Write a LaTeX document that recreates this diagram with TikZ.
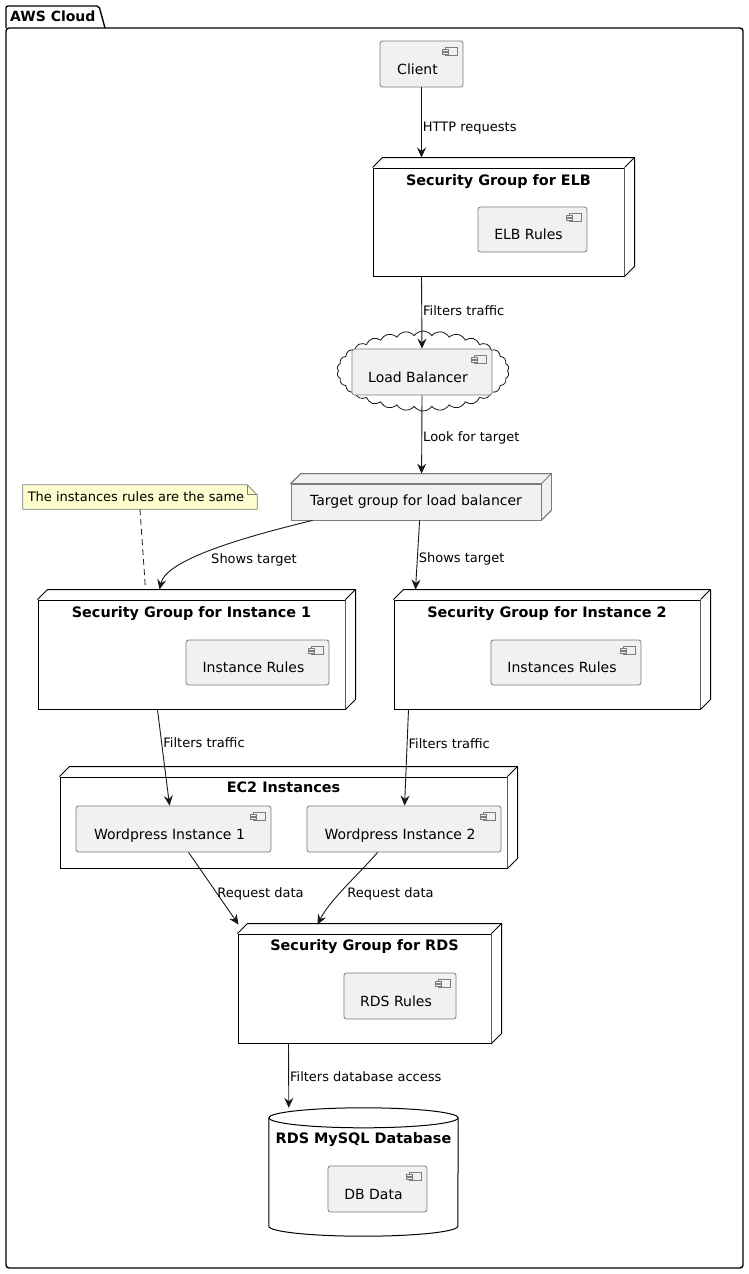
\documentclass[tikz,border=0pt]{standalone}
\usepackage{fontspec}
\setmainfont{DejaVu Sans}
\usetikzlibrary{shapes.symbols,arrows.meta,backgrounds}
\definecolor{compfill}{HTML}{F1F1F1}
\definecolor{compline}{HTML}{7C7C7C}
\definecolor{darkline}{HTML}{181818}
\definecolor{notefill}{HTML}{FEFECE}

\newcommand{\compicon}[1]{%
  \draw[compline, line width=0.6pt] ([xshift=-18pt,yshift=-7pt]#1.north east) rectangle ([xshift=-6pt,yshift=-15pt]#1.north east);
  \draw[compline, line width=0.6pt, fill=compfill] ([xshift=-21pt,yshift=-9pt]#1.north east) rectangle ([xshift=-15pt,yshift=-11pt]#1.north east);
  \draw[compline, line width=0.6pt, fill=compfill] ([xshift=-21pt,yshift=-12pt]#1.north east) rectangle ([xshift=-15pt,yshift=-14pt]#1.north east);}
\newcommand{\nodeback}[2][]{%
  \fill[fill=white, #1] (#2.north west) -- ([shift={(10pt,10pt)}]#2.north west) -- ([shift={(10pt,10pt)}]#2.north east) -- ([shift={(10pt,10pt)}]#2.south east) -- (#2.south east) -- (#2.north east) -- cycle;
  \draw[line width=1pt, line join=round, #1, fill=none] (#2.north west) -- ([shift={(10pt,10pt)}]#2.north west) -- ([shift={(10pt,10pt)}]#2.north east) -- ([shift={(10pt,10pt)}]#2.south east) -- (#2.south east);
  \draw[line width=1pt, #1, fill=none] (#2.north east) -- ([shift={(10pt,10pt)}]#2.north east);}

\begin{document}
\begin{tikzpicture}[x=1pt, y=-1pt,
   comp/.style={draw=compline, fill=compfill, rounded corners=2.5pt, line width=0.8pt, inner sep=0pt,
                font=\fontsize{14}{16}\selectfont, text height=20pt, text depth=0pt,
                execute at end node={\hspace*{8pt}}},
   group/.style={draw=black, fill=white, line width=1pt, inner sep=0pt},
   gtitle/.style={font=\bfseries\fontsize{14.4}{16}\selectfont, inner sep=0pt},
   elabel/.style={font=\fontsize{13}{15}\selectfont, inner sep=1pt, yshift=-2pt},
   link/.style={draw=darkline, line width=0.9pt, -{Stealth[length=10pt,width=9pt,inset=3.5pt]}},
   pkgline/.style={draw=black, line width=1.4pt}]

\useasboundingbox (0,0) rectangle (748,1274);

\draw[pkgline, rounded corners=2pt] (6,28) -- (6,6) -- (99,6) -- (105,28);
\draw[pkgline, rounded corners=3pt] (6,28) rectangle (743,1268);
\node[gtitle, font=\bfseries\fontsize{14}{16}\selectfont, anchor=west] (awstitle) at (10,16) {AWS Cloud};

\node[comp, minimum width=83, minimum height=46] (client) at (421.5,64) {Client};
\compicon{client}

\node[group, minimum width=251, minimum height=108] (elb) at (498.5,222) {};
\nodeback{elb}
\node[gtitle] (elbtitle) at ([yshift=-14pt]elb.north) {Security Group for ELB};
\node[comp, minimum width=109, minimum height=45] (elbrules) at (532.5,229.5) {ELB Rules};
\compicon{elbrules}

\node[cloud, cloud puffs=30, cloud puff arc=110, cloud ignores aspect, draw=darkline, line width=0.8pt,
      minimum width=172, minimum height=80] (lbcloud) at (423,371) {};
\node[comp, minimum width=140, minimum height=46] (lb) at (422,372) {Load Balancer};
\compicon{lb}

\node[draw=compline, fill=compfill, line width=0.8pt, minimum width=250, minimum height=36,
      font=\fontsize{14}{16}\selectfont] (tg) at (416,502) {Target group for load balancer};
\nodeback[draw=compline, fill=compfill, line width=0.8pt]{tg}

\node[minimum width=234, minimum height=24, inner sep=0pt, font=\fontsize{13}{15}\selectfont,
      execute at end node={\hspace*{8pt}}] (note) at (140,497) {The instances rules are the same};
\begin{scope}[on background layer]
\draw[draw=compline, fill=notefill, line width=0.7pt] (note.north west) -- ([xshift=-10pt]note.north east) -- ([yshift=-10pt]note.north east) -- (note.south east) -- (note.south west) -- cycle;
\draw[draw=compline, line width=0.7pt] ([xshift=-10pt]note.north east) |- ([yshift=-10pt]note.north east);
\end{scope}

\node[group, minimum width=307, minimum height=109] (sgone) at (191.5,654.5) {};
\nodeback{sgone}
\node[gtitle] (sgonetitle) at ([yshift=-14.5pt]sgone.north) {Security Group for Instance 1};
\node[comp, minimum width=143, minimum height=45] (rulesone) at (257.5,662.5) {Instance Rules};
\compicon{rulesone}

\node[group, minimum width=306, minimum height=109] (sgtwo) at (547,654.5) {};
\nodeback{sgtwo}
\node[gtitle] (sgtwotitle) at ([yshift=-14.5pt]sgtwo.north) {Security Group for Instance 2};
\node[comp, minimum width=150, minimum height=45] (rulestwo) at (566,662.5) {Instances Rules};
\compicon{rulestwo}

\node[group, minimum width=447, minimum height=91] (ec2) at (283.5,822.5) {};
\nodeback{ec2}
\node[gtitle] (ec2title) at ([yshift=-11pt]ec2.north) {EC2 Instances};
\node[comp, minimum width=195, minimum height=46] (wpone) at (173.5,829) {Wordpress Instance 1};
\compicon{wpone}
\node[comp, minimum width=194, minimum height=46] (wptwo) at (404,829) {Wordpress Instance 2};
\compicon{wptwo}

\node[group, minimum width=253, minimum height=109] (rds) at (364.5,988.5) {};
\nodeback{rds}
\node[gtitle] (rdstitle) at ([yshift=-13.5pt]rds.north) {Security Group for RDS};
\node[comp, minimum width=112, minimum height=46] (rdsrules) at (400,996) {RDS Rules};
\compicon{rdsrules}

\node[minimum width=189, minimum height=128, inner sep=0pt] (db) at (363.5,1172) {};
\draw[line width=1pt, fill=white] ([yshift=-10pt]db.north west) -- ([yshift=10pt]db.south west)
   arc[start angle=180, end angle=360, x radius=94.5pt, y radius=10pt] -- ([yshift=-10pt]db.north east);
\draw[line width=1pt] ([yshift=-10pt]db.north) ellipse [x radius=94.5pt, y radius=10pt];
\node[gtitle] (dbtitle) at ([yshift=-32pt]db.north) {RDS MySQL Database};
\node[comp, minimum width=99, minimum height=46] (dbdata) at (377.5,1189) {DB Data};
\compicon{dbdata}

\draw[link] (client.south) -- node[elabel, anchor=west, pos=0.55] (lhttp) {HTTP requests} ([xshift=49pt,yshift=10pt]elb.north west);
\draw[link] ([xshift=49pt]elb.south west) -- node[elabel, anchor=west, pos=0.44] (lfilter) {Filters traffic} (lb.north);
\draw[link] (lb.south) -- node[elabel, anchor=west, pos=0.52] (llook) {Look for target} ([xshift=131pt,yshift=10pt]tg.north west);
\draw[link] ([xshift=22pt]tg.south west) .. controls (240,538) and (166,560) .. ([xshift=122pt,yshift=10pt]sgone.north west)
   node[elabel] (lshowone) at (254,558) {Shows target};
\draw[link] ([xshift=129pt]tg.south west) -- node[elabel, anchor=west, pos=0.535] (lshowtwo) {Shows target} ([xshift=22pt,yshift=10pt]sgtwo.north west);
\draw[draw=darkline, line width=0.8pt, dash pattern=on 6pt off 4pt] (note.south) -- ([xshift=108pt,yshift=10pt]sgone.north west);
\draw[link] ([xshift=120pt]sgone.south west) .. controls (160,730) and (165,770) .. ([xshift=94pt]wpone.north west)
   node[elabel, anchor=west] (lfilterone) at (162,741) {Filters traffic};
\draw[link] ([xshift=15pt]sgtwo.south west) -- node[elabel, anchor=west, pos=0.33] (lfiltertwo) {Filters traffic} ([xshift=98pt]wptwo.north west);
\draw[link] ([xshift=113pt]wpone.south west) -- node[elabel, anchor=west, pos=0.55] (lreqone) {Request data} ([xshift=1pt,yshift=9pt]rds.north west);
\draw[link] ([xshift=71pt]wptwo.south west) .. controls (355,878) and (330,900) .. ([xshift=80pt,yshift=9pt]rds.north west)
   node[elabel, anchor=west] (lreqtwo) at (346,892) {Request data};
\draw[link] ([xshift=51pt]rds.south west) -- node[elabel, anchor=west, pos=0.49] (ldb) {Filters database access} ([xshift=20pt]db.north west);

\end{tikzpicture}
\end{document}
